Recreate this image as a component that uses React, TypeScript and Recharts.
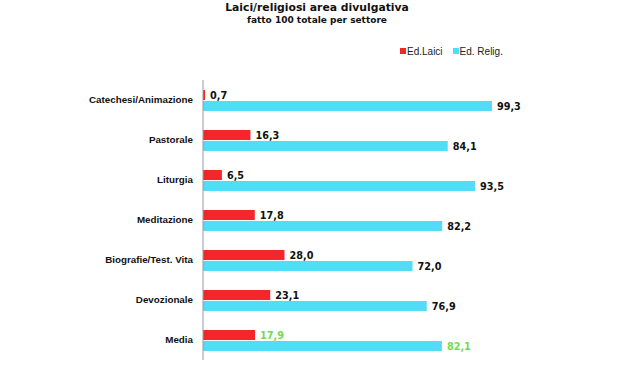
import { BarChart, Bar, XAxis, YAxis, LabelList, Legend } from 'recharts';

const categories = [
  'Catechesi/Animazione',
  'Pastorale',
  'Liturgia',
  'Meditazione',
  'Biografie/Test. Vita',
  'Devozionale',
  'Media'
];
const laici = [0.7, 16.3, 6.5, 17.8, 28.0, 23.1, 17.9];
const religiosi = [99.3, 84.1, 93.5, 82.2, 72.0, 76.9, 82.1];

const data = categories.map((name, i) => ({ name, laici: laici[i], religiosi: religiosi[i] }));

const RED = '#f52626';
const CYAN = '#52dcf8';
const GREEN = '#6fdc4e';

const fmt = (v: number) => v.toFixed(1).replace('.', ',');

function ValueLabel(props: any) {
  const { x, y, width, height, value, index } = props;
  const isMedia = categories[index] === 'Media';
  return (
    <text
      x={x + width + 5}
      y={y + height / 2}
      dy={1}
      dominantBaseline="middle"
      fontFamily="DejaVu Sans"
      fontWeight="bold"
      fontSize={9.7}
      fill={isMedia ? GREEN : '#111'}
    >
      {fmt(value)}
    </text>
  );
}

function LegendBox() {
  const item = (color: string, label: string) => (
    <span style={{ display: 'inline-flex', alignItems: 'center', marginRight: 10 }}>
      <span style={{ width: 6, height: 6, background: color, marginRight: 1, display: 'inline-block' }} />
      {label}
    </span>
  );
  return (
    <div style={{ fontFamily: 'Liberation Sans, Arial', fontSize: 10, color: '#222', whiteSpace: 'nowrap' }}>
      {item(RED, 'Ed.Laici')}
      {item(CYAN, 'Ed. Relig.')}
    </div>
  );
}

export default function App() {
  return (
    <div style={{ position: 'absolute', left: 0, top: 0, width: 641, height: 382, background: '#fff' }}>
      <div
        style={{
          position: 'absolute',
          left: 0,
          width: 634,
          top: 1,
          textAlign: 'center',
          fontFamily: 'DejaVu Sans',
          fontWeight: 'bold',
          color: '#111',
          zIndex: 2
        }}
      >
        <div style={{ fontSize: 10.8, lineHeight: '14px' }}>Laici/religiosi area divulgativa</div>
        <div style={{ fontSize: 9, lineHeight: '11px' }}>fatto 100 totale per settore</div>
      </div>
      <BarChart
        width={641}
        height={382}
        data={data}
        layout="vertical"
        margin={{ top: 80, right: 147, bottom: 22, left: 0 }}
        barSize={10}
        barGap={1}
      >
        <XAxis type="number" domain={[0, 100]} hide />
        <YAxis
          type="category"
          dataKey="name"
          width={203}
          tickLine={false}
          axisLine={{ stroke: '#999' }}
          tick={{ fontFamily: 'Liberation Sans, Arial', fontWeight: 'bold', fontSize: 9.8, fill: '#111' }}
          tickMargin={4}
        />
        <Legend
          verticalAlign="top"
          height={0}
          content={() => <LegendBox />}
          wrapperStyle={{ top: 45, left: 400, width: 'auto', height: 0, overflow: 'visible' }}
        />
        <Bar dataKey="laici" name="Ed.Laici" fill={RED} isAnimationActive={false}>
          <LabelList dataKey="laici" content={ValueLabel} />
        </Bar>
        <Bar dataKey="religiosi" name="Ed. Relig." fill={CYAN} isAnimationActive={false}>
          <LabelList dataKey="religiosi" content={ValueLabel} />
        </Bar>
      </BarChart>
    </div>
  );
}
